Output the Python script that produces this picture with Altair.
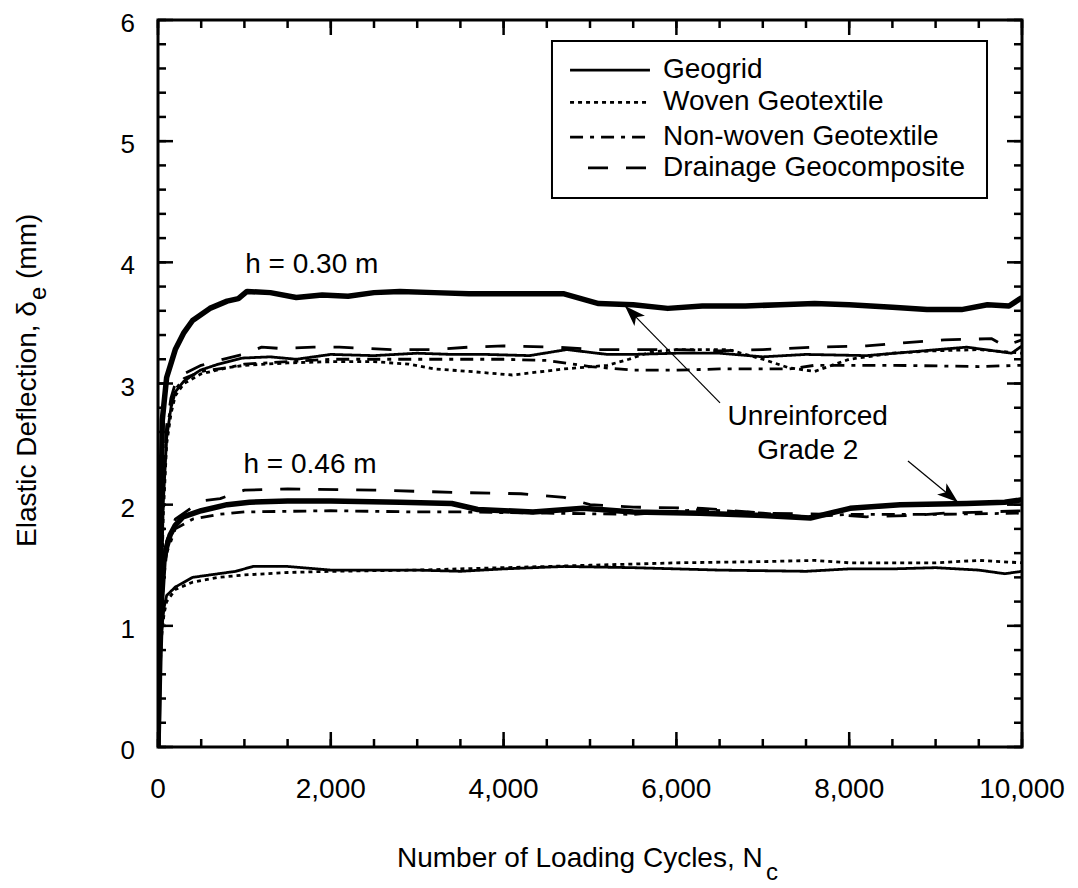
import math
import altair as alt
import pandas as pd

FONT = "Liberation Sans"
FS = 28

SERIES = ["Geogrid", "Woven Geotextile", "Non-woven Geotextile", "Drainage Geocomposite", "Unreinforced"]
LEGEND_SERIES = SERIES[:4]

# ---------------- h = 0.30 m ----------------
n_unr30 = [0, 25, 50, 100, 200, 300, 400, 600, 800, 930, 1030, 1300, 1600, 1900, 2200, 2500, 2800, 3200, 3600, 4000, 4400, 4700,
           5100, 5500, 5900, 6300, 6800, 7200, 7600, 8000, 8500, 8900, 9300, 9600, 9850, 10000]
d_unr30 = [0, 1.5, 2.7, 3.05, 3.28, 3.42, 3.52, 3.62, 3.68, 3.70, 3.76, 3.75, 3.71, 3.73, 3.72, 3.75, 3.76, 3.75, 3.74, 3.74, 3.74, 3.74,
           3.66, 3.65, 3.62, 3.64, 3.64, 3.65, 3.66, 3.65, 3.63, 3.61, 3.61, 3.65, 3.64, 3.71]

n_geo30 = [0, 30, 60, 100, 150, 200, 300, 490, 700, 980, 1300, 1600, 2000, 2500, 3000, 3400, 3800, 4300, 4730, 5200, 5500, 6000,
           6500, 7000, 7500, 8200, 8700, 9360, 9880, 10000]
d_geo30 = [0, 1.0, 2.0, 2.55, 2.8, 2.93, 3.02, 3.11, 3.16, 3.21, 3.22, 3.20, 3.24, 3.23, 3.25, 3.24, 3.24, 3.23, 3.28, 3.24, 3.24, 3.25,
           3.25, 3.22, 3.24, 3.23, 3.26, 3.30, 3.25, 3.31]

n_wov30 = [0, 30, 60, 100, 150, 200, 300, 500, 800, 1000, 1500, 2000, 2500, 2900, 3200, 3600, 4100, 4700, 5200, 5450, 5700, 6000,
           6600, 7000, 7300, 7600, 8000, 8500, 9000, 9500, 10000]
d_wov30 = [0, 0.9, 1.9, 2.5, 2.75, 2.9, 3.0, 3.08, 3.13, 3.15, 3.17, 3.18, 3.18, 3.16, 3.12, 3.10, 3.07, 3.12, 3.15, 3.20, 3.26, 3.28,
           3.28, 3.20, 3.13, 3.10, 3.20, 3.25, 3.27, 3.28, 3.25]

n_nwv30 = [0, 30, 60, 100, 150, 200, 300, 500, 800, 1000, 1500, 2000, 3000, 4000, 4500, 5000, 5500, 6000, 6500, 7300, 7600, 8500,
           9500, 10000]
d_nwv30 = [0, 1.0, 2.1, 2.6, 2.82, 2.95, 3.04, 3.10, 3.13, 3.16, 3.18, 3.20, 3.20, 3.20, 3.19, 3.14, 3.11, 3.11, 3.12, 3.12, 3.15, 3.15,
           3.14, 3.15]

n_drn30 = [0, 30, 60, 100, 150, 200, 300, 500, 750, 980, 1200, 1400, 1800, 2100, 2700, 3200, 3600, 4000, 4600, 5100, 6000, 6500,
           7000, 7600, 8200, 8700, 9100, 9650, 9800, 10000]
d_drn30 = [0, 1.1, 2.2, 2.65, 2.88, 3.0, 3.08, 3.15, 3.20, 3.24, 3.30, 3.29, 3.30, 3.30, 3.28, 3.28, 3.30, 3.31, 3.30, 3.28, 3.28, 3.27,
           3.28, 3.30, 3.31, 3.34, 3.36, 3.37, 3.31, 3.36]

# ---------------- h = 0.46 m ----------------
n_unr46 = [0, 20, 40, 70, 100, 140, 200, 290, 500, 800, 1060, 1500, 2000, 2800, 3400, 3700, 4340, 4920, 5500, 6270, 7000, 7550,
           8010, 8590, 9360, 9800, 10000]
d_unr46 = [0, 0.7, 1.2, 1.55, 1.65, 1.75, 1.83, 1.90, 1.95, 2.00, 2.02, 2.03, 2.03, 2.02, 2.01, 1.96, 1.94, 1.97, 1.94, 1.93, 1.91, 1.89,
           1.97, 2.00, 2.01, 2.02, 2.04]

n_drn46 = [0, 30, 60, 100, 200, 500, 720, 1000, 1500, 2500, 3000, 3500, 4200, 4700, 5000, 5500, 6300, 7000, 7800, 8200, 8700, 9100,
           9600, 10000]
d_drn46 = [0, 0.9, 1.45, 1.7, 1.88, 2.03, 2.05, 2.12, 2.13, 2.12, 2.11, 2.10, 2.09, 2.06, 2.00, 1.98, 1.97, 1.93, 1.92, 1.90, 1.91, 1.93,
           1.94, 1.95]

n_nwv46 = [0, 30, 60, 100, 200, 400, 700, 1000, 2000, 3000, 3500, 4500, 5500, 6300, 7000, 7500, 8000, 9000, 10000]
d_nwv46 = [0, 0.85, 1.35, 1.6, 1.8, 1.88, 1.92, 1.94, 1.95, 1.94, 1.94, 1.93, 1.92, 1.96, 1.93, 1.90, 1.92, 1.92, 1.93]

n_geo46 = [0, 20, 40, 70, 100, 200, 400, 700, 900, 1100, 1500, 2000, 2500, 3000, 3500, 4000, 4700, 5500, 6500, 7500, 8000, 8500,
           9000, 9500, 9800, 10000]
d_geo46 = [0, 0.6, 0.95, 1.15, 1.25, 1.32, 1.40, 1.43, 1.45, 1.49, 1.49, 1.46, 1.46, 1.46, 1.45, 1.47, 1.49, 1.48, 1.46, 1.45, 1.47, 1.47,
           1.48, 1.46, 1.43, 1.45]

n_wov46 = [0, 20, 40, 70, 100, 200, 400, 700, 1000, 1500, 2000, 3000, 4000, 5000, 6000, 7000, 7600, 8000, 9000, 9500, 10000]
d_wov46 = [0, 0.55, 0.9, 1.1, 1.2, 1.3, 1.36, 1.40, 1.42, 1.44, 1.45, 1.46, 1.48, 1.50, 1.52, 1.53, 1.54, 1.52, 1.52, 1.54, 1.52]

curves = [
    ("0.30", "Unreinforced", n_unr30, d_unr30),
    ("0.30", "Geogrid", n_geo30, d_geo30),
    ("0.30", "Woven Geotextile", n_wov30, d_wov30),
    ("0.30", "Non-woven Geotextile", n_nwv30, d_nwv30),
    ("0.30", "Drainage Geocomposite", n_drn30, d_drn30),
    ("0.46", "Unreinforced", n_unr46, d_unr46),
    ("0.46", "Geogrid", n_geo46, d_geo46),
    ("0.46", "Woven Geotextile", n_wov46, d_wov46),
    ("0.46", "Non-woven Geotextile", n_nwv46, d_nwv46),
    ("0.46", "Drainage Geocomposite", n_drn46, d_drn46),
]
rows = []
for h, s, ns, ds in curves:
    for n, d in zip(ns, ds):
        rows.append({"N": n, "d": d, "series": s, "key": s + h})
df = pd.DataFrame(rows)

# axis ticks and tick labels
x_major = [0, 2000, 4000, 6000, 8000, 10000]
x_minor = list(range(0, 10001, 500))
y_major = [0, 1, 2, 3, 4, 5, 6]
y_minor = [round(i * 0.2, 1) for i in range(31)]
x_labels = ["0", "2,000", "4,000", "6,000", "8,000", "10,000"]
y_labels = ["0", "1", "2", "3", "4", "5", "6"]

# annotations
ann_N = [1780, 1760, 7520, 7520]
ann_d = [3.98, 2.33, 2.72, 2.44]
ann_t = ["h = 0.30 m", "h = 0.46 m", "Unreinforced", "Grade 2"]

arrow_N1 = [6505, 8680]
arrow_d1 = [2.84, 2.36]
arrow_N2 = [5405, 9259]
arrow_d2 = [3.64, 2.02]

W, H = 864, 727
XMAX, YMAX = 10000.0, 6.0

xs = alt.Scale(domain=[0, 10000], nice=False, zero=False)
ys = alt.Scale(domain=[0, 6], nice=False, zero=False)
dash_scale = alt.Scale(domain=SERIES, range=[[1, 0], [4, 4], [13, 7, 4, 7], [20, 18], [1, 0]])


def X(f):
    return alt.X(f, type="quantitative", scale=xs, axis=None)


def Y(f):
    return alt.Y(f, type="quantitative", scale=ys, axis=None)


thin = alt.Chart(df).transform_filter(alt.datum.series != "Unreinforced").mark_line(
    color="black", clip=True, strokeJoin="round", strokeWidth=2.8).encode(
    x=X("N"), y=Y("d"),
    strokeDash=alt.StrokeDash("series:N", scale=dash_scale, legend=None),
    detail="key:N",
)
thick = alt.Chart(df).transform_filter(alt.datum.series == "Unreinforced").mark_line(
    color="black", clip=True, strokeJoin="round", strokeWidth=5.5).encode(
    x=X("N"), y=Y("d"), detail="key:N",
)

# inward ticks on all four sides: filled bar symbols anchored on the frame,
# rotated to point into the plot (0 = up from bottom edge, 180 = down from top,
# 90 = right from left edge, 270 = left from right edge)
def tick_rows(xvals, yvals):
    out = []
    for v in xvals:
        out.append({"x": v, "y": 0.0, "ang": 0})
        out.append({"x": v, "y": YMAX, "ang": 180})
    for v in yvals:
        out.append({"x": 0.0, "y": v, "ang": 90})
        out.append({"x": XMAX, "y": v, "ang": 270})
    return pd.DataFrame(out)


def tick_layer(xvals, yvals, length):
    r = length / 2.0
    hw = 1.25 / r
    shape = "M{a:.4f},0 L{a:.4f},-2 L{b:.4f},-2 L{b:.4f},0 Z".format(a=-hw, b=hw)
    return alt.Chart(tick_rows(xvals, yvals)).mark_point(
        shape=shape, filled=True, color="black", opacity=1, size=length * length, strokeWidth=0).encode(
        x=X("x"), y=Y("y"), angle=alt.Angle("ang:Q", scale=None))


tick_major = tick_layer(x_major, y_major, 15)
tick_minor = tick_layer(x_minor, y_minor, 8)

# tick labels placed through the scales
xl_df = pd.DataFrame({"N": x_major, "lab": x_labels})
xlab = alt.Chart(xl_df).mark_text(fontSize=FS, font=FONT, color="black", align="center", baseline="top").encode(
    x=X("N"), y=alt.value(H + 29), text="lab:N")
yl_df = pd.DataFrame({"d": y_major, "lab": y_labels})
ylab = alt.Chart(yl_df).mark_text(fontSize=26, font=FONT, color="black", align="right", baseline="middle", dy=4).encode(
    y=Y("d"), x=alt.value(-23), text="lab:N")

ann_df = pd.DataFrame({"N": ann_N, "d": ann_d, "t": ann_t})
ann = alt.Chart(ann_df).mark_text(fontSize=FS, font=FONT, color="black", align="center", baseline="middle").encode(
    x=X("N"), y=Y("d"), text="t:N")

ang = []
for a, b, c, e in zip(arrow_N1, arrow_d1, arrow_N2, arrow_d2):
    dx = (c - a) / XMAX * W
    dy_screen = -(e - b) / YMAX * H
    ang.append(math.degrees(math.atan2(dx, -dy_screen)) % 360)
arr_df = pd.DataFrame({"N1": arrow_N1, "d1": arrow_d1, "N2": arrow_N2, "d2": arrow_d2, "ang": ang})
arrows = alt.Chart(arr_df).mark_rule(color="black", strokeWidth=1.2).encode(
    x=X("N1"), y=Y("d1"), x2="N2:Q", y2="d2:Q")
heads = alt.Chart(arr_df).mark_point(shape="M0,0 L0.7,2 L0,1.5 L-0.7,2 Z", filled=True, color="black",
                                     opacity=1, size=441, strokeWidth=0).encode(
    x=X("N2"), y=Y("d2"), angle=alt.Angle("ang:Q", scale=None))

# legend (drawn inside the plot, as in the figure)
box_df = pd.DataFrame({"bx1": [4560], "bx2": [9595], "by1": [4.53], "by2": [5.827]})
leg_box = alt.Chart(box_df).mark_rect(fill="white", stroke="black", strokeWidth=2).encode(
    x=X("bx1"), x2="bx2:Q", y=Y("by1"), y2="by2:Q")
leg_df = pd.DataFrame({
    "series": LEGEND_SERIES,
    "sx1": [4769, 4769, 4769, 4977],
    "sx2": [5694, 5694, 5694, 5694],
    "ly": [5.587, 5.32, 5.034, 4.779],
    "lx": [5845, 5845, 5845, 5845],
})
leg_lines = alt.Chart(leg_df).mark_rule(color="black", strokeWidth=2.8).encode(
    x=X("sx1"), x2="sx2:Q", y=Y("ly"),
    strokeDash=alt.StrokeDash("series:N", scale=dash_scale, legend=None))
leg_text = alt.Chart(leg_df).mark_text(fontSize=FS, font=FONT, color="black", align="left", baseline="middle").encode(
    x=X("lx"), y=Y("ly"), text="series:N")

one = pd.DataFrame({"a": [0]})


def label(txt, px, py, size=FS, angle=0):
    kw = dict(text=txt, fontSize=size, font=FONT, color="black", align="left", baseline="alphabetic")
    if angle:
        kw["angle"] = angle
    return alt.Chart(one).mark_text(**kw).encode(x=alt.value(px), y=alt.value(py))


xt1 = label("Number of Loading Cycles, N", 239, 847)
xt2 = label("c", 608, 860, size=24)
yt1 = label("Elastic Deflection, \u03b4", -122, 527, angle=270)
yt2 = label("e", -112, 280, size=24, angle=270)
yt3 = label("(mm)", -122, 259, angle=270)

chart = alt.layer(
    thin, thick, tick_major, tick_minor, xlab, ylab, ann, arrows, heads, leg_box, leg_lines, leg_text,
    xt1, xt2, yt1, yt2, yt3
).properties(
    width=W, height=H,
    autosize=alt.AutoSizeParams(type="none"),
    padding={"left": 150, "top": 12, "right": 48, "bottom": 141},
).configure(font=FONT).configure_view(stroke="black", strokeWidth=3)

chart.save("out.html", embed_options={"renderer": "svg", "actions": False})
